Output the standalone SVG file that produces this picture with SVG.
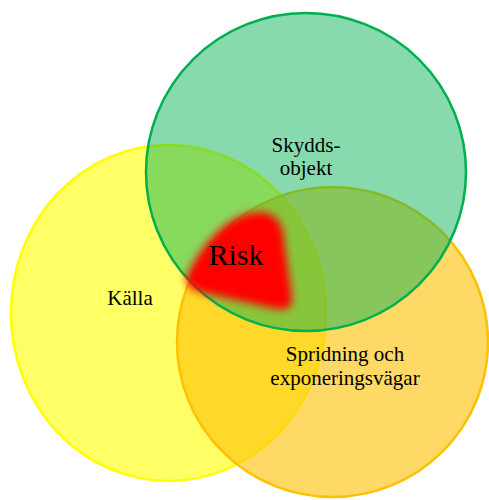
<svg xmlns="http://www.w3.org/2000/svg" width="489" height="500" viewBox="0 0 489 500">
<style>
.lbl{font-family:"Liberation Serif","Times New Roman",serif;font-size:21px;fill:#000;text-anchor:middle}
</style>
<defs>
<filter id="blur" x="-30%" y="-30%" width="160%" height="160%"><feGaussianBlur stdDeviation="4"/></filter>
</defs>
<rect width="489" height="500" fill="#fff"/>
<g id="kalla">
<ellipse cx="168.5" cy="313" rx="157.5" ry="168" fill="#FFFF00" fill-opacity="0.6" stroke="#FFFF00" stroke-width="2.5"/>
</g>
<g id="spridning">
<ellipse cx="332.5" cy="342" rx="155.5" ry="155" fill="#FFC000" fill-opacity="0.6" stroke="#FFC000" stroke-width="2.5"/>
</g>
<g id="skyddsobjekt">
<ellipse cx="306" cy="172" rx="160" ry="159" fill="#00B050" fill-opacity="0.47" stroke="#00B050" stroke-width="2.5"/>
</g>
<g id="risk">
<path d="M 262,212 Q 282,214 284,240 L 292,298 Q 293,312 276,309 L 200,292 Q 180,286 189,271 Q 205,240 228,223 Q 244,212 262,212 Z" fill="#FF0000" filter="url(#blur)"/>
<text x="236" y="265" class="lbl" style="font-size:30px">Risk</text>
</g>
<g id="labels">
<text x="130" y="305" class="lbl">Källa</text>
<text x="306" y="152" class="lbl">Skydds-</text>
<text x="306" y="175" class="lbl">objekt</text>
<text x="345" y="361" class="lbl">Spridning och</text>
<text x="345" y="385" class="lbl">exponeringsvägar</text>
</g>
<g id="connectors"></g>
</svg>
